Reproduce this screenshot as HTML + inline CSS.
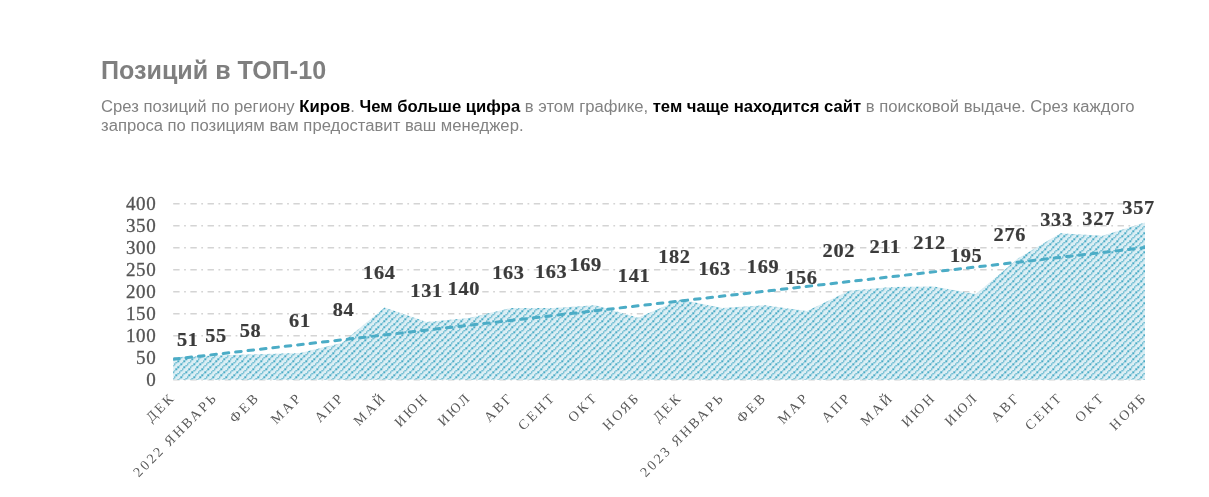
<!DOCTYPE html>
<html lang="ru"><head><meta charset="utf-8"><title>Позиций в ТОП-10</title>
<style>
html,body{margin:0;padding:0;background:#fff;}
body{width:1209px;height:497px;position:relative;overflow:hidden;font-family:"Liberation Sans",Arial,sans-serif;}
h1{position:absolute;left:101px;top:55.2px;margin:0;font-size:25.1px;line-height:30px;font-weight:700;color:#7f7f7f;white-space:nowrap;}
p{position:absolute;left:101px;top:96.7px;margin:0;width:1100px;white-space:nowrap;font-size:16.65px;line-height:19.4px;color:#828282;}
p b{color:#000;font-weight:700;}
svg{position:absolute;left:0;top:0;}
.ax{font-family:"Liberation Serif","DejaVu Serif",serif;font-size:19px;fill:#545454;stroke:#545454;stroke-width:0.3px;letter-spacing:0.7px;}
.dl{font-family:"Liberation Serif","DejaVu Serif",serif;font-size:18.5px;font-weight:700;fill:#3b3b3b;stroke:#3b3b3b;stroke-width:0.2px;letter-spacing:0.6px;}
.ct{font-family:"Liberation Serif","DejaVu Serif",serif;font-size:14px;fill:#595959;letter-spacing:2.5px;}
</style></head><body>
<h1>Позиций в ТОП-10</h1>
<p>Срез позиций по региону <b>Киров</b>. <b>Чем больше цифра</b> в этом графике, <b>тем чаще находится сайт</b> в поисковой выдаче. Срез каждого<br>запроса по позициям вам предоставит ваш менеджер.</p>
<svg width="1209" height="497" viewBox="0 0 1209 497">
<defs>
<pattern id="h" patternUnits="userSpaceOnUse" x="1.3" y="0.3" width="32" height="32">
<rect width="32" height="32" fill="#dbeef4"/>
<path d="M5 0h1v2h-1zM11 0h2v2h-2zM18 0h1v2h-1zM24 0h2v2h-2zM30 0h2v2h-2zM3 2h2v1h-2zM10 2h1v1h-1zM16 2h2v1h-2zM22 2h2v1h-2zM29 2h1v1h-1zM2 3h1v2h-1zM8 3h2v2h-2zM14 3h2v2h-2zM21 3h1v2h-1zM27 3h2v2h-2zM0 5h2v1h-2zM6 5h2v1h-2zM13 5h1v1h-1zM19 5h2v1h-2zM26 5h1v1h-1zM5 6h1v2h-1zM11 6h2v2h-2zM18 6h1v2h-1zM24 6h2v2h-2zM30 6h2v2h-2zM3 8h2v2h-2zM10 8h1v2h-1zM16 8h2v2h-2zM22 8h2v2h-2zM29 8h1v2h-1zM2 10h1v1h-1zM8 10h2v1h-2zM14 10h2v1h-2zM21 10h1v1h-1zM27 10h2v1h-2zM0 11h2v2h-2zM6 11h2v2h-2zM13 11h1v2h-1zM19 11h2v2h-2zM26 11h1v2h-1zM5 13h1v1h-1zM11 13h2v1h-2zM18 13h1v1h-1zM24 13h2v1h-2zM30 13h2v1h-2zM3 14h2v2h-2zM10 14h1v2h-1zM16 14h2v2h-2zM22 14h2v2h-2zM29 14h1v2h-1zM2 16h1v2h-1zM8 16h2v2h-2zM14 16h2v2h-2zM21 16h1v2h-1zM27 16h2v2h-2zM0 18h2v1h-2zM6 18h2v1h-2zM13 18h1v1h-1zM19 18h2v1h-2zM26 18h1v1h-1zM5 19h1v2h-1zM11 19h2v2h-2zM18 19h1v2h-1zM24 19h2v2h-2zM30 19h2v2h-2zM3 21h2v1h-2zM10 21h1v1h-1zM16 21h2v1h-2zM22 21h2v1h-2zM29 21h1v1h-1zM2 22h1v2h-1zM8 22h2v2h-2zM14 22h2v2h-2zM21 22h1v2h-1zM27 22h2v2h-2zM0 24h2v2h-2zM6 24h2v2h-2zM13 24h1v2h-1zM19 24h2v2h-2zM26 24h1v2h-1zM5 26h1v1h-1zM11 26h2v1h-2zM18 26h1v1h-1zM24 26h2v1h-2zM30 26h2v1h-2zM3 27h2v2h-2zM10 27h1v2h-1zM16 27h2v2h-2zM22 27h2v2h-2zM29 27h1v2h-1zM2 29h1v1h-1zM8 29h2v1h-2zM14 29h2v1h-2zM21 29h1v1h-1zM27 29h2v1h-2zM0 30h2v2h-2zM6 30h2v2h-2zM13 30h1v2h-1zM19 30h2v2h-2zM26 30h1v2h-1z" fill="#4bacc6"/>
</pattern>
<clipPath id="pc"><rect x="173.2" y="190" width="971.8" height="200"/></clipPath>
</defs>
<line x1="173.2" y1="379.7" x2="1145.0" y2="379.7" stroke="#d4d4d4" stroke-width="1.4" stroke-dasharray="6.4 4.5 1.77 4.5"/>
<line x1="173.2" y1="357.7" x2="1145.0" y2="357.7" stroke="#d4d4d4" stroke-width="1.4" stroke-dasharray="6.4 4.5 1.77 4.5"/>
<line x1="173.2" y1="335.7" x2="1145.0" y2="335.7" stroke="#d4d4d4" stroke-width="1.4" stroke-dasharray="6.4 4.5 1.77 4.5"/>
<line x1="173.2" y1="313.7" x2="1145.0" y2="313.7" stroke="#d4d4d4" stroke-width="1.4" stroke-dasharray="6.4 4.5 1.77 4.5"/>
<line x1="173.2" y1="291.7" x2="1145.0" y2="291.7" stroke="#d4d4d4" stroke-width="1.4" stroke-dasharray="6.4 4.5 1.77 4.5"/>
<line x1="173.2" y1="269.7" x2="1145.0" y2="269.7" stroke="#d4d4d4" stroke-width="1.4" stroke-dasharray="6.4 4.5 1.77 4.5"/>
<line x1="173.2" y1="247.7" x2="1145.0" y2="247.7" stroke="#d4d4d4" stroke-width="1.4" stroke-dasharray="6.4 4.5 1.77 4.5"/>
<line x1="173.2" y1="225.7" x2="1145.0" y2="225.7" stroke="#d4d4d4" stroke-width="1.4" stroke-dasharray="6.4 4.5 1.77 4.5"/>
<line x1="173.2" y1="203.7" x2="1145.0" y2="203.7" stroke="#d4d4d4" stroke-width="1.4" stroke-dasharray="6.4 4.5 1.77 4.5"/>
<polygon points="173.2,379.7 173.2,357.3 215.5,355.5 257.7,354.2 300.0,352.9 342.2,342.7 384.5,307.5 426.7,322.1 469.0,318.1 511.2,308.0 553.5,308.0 595.7,305.3 638.0,317.7 680.2,299.6 722.5,308.0 764.7,305.3 807.0,311.1 849.2,290.8 891.5,286.9 933.7,286.4 976.0,293.9 1018.2,258.3 1060.5,233.2 1102.7,235.8 1145.0,222.6 1145.0,379.7" fill="url(#h)"/>
<line x1="173.2" y1="359.2" x2="1145.0" y2="247.6" stroke="#4bacc6" stroke-width="3" stroke-linecap="round" stroke-dasharray="5.6 6.884" stroke-dashoffset="-0.4" clip-path="url(#pc)"/>
<text class="ax" x="156.5" y="386.0" text-anchor="end">0</text>
<text class="ax" x="156.5" y="364.0" text-anchor="end">50</text>
<text class="ax" x="156.5" y="342.0" text-anchor="end">100</text>
<text class="ax" x="156.5" y="320.0" text-anchor="end">150</text>
<text class="ax" x="156.5" y="298.0" text-anchor="end">200</text>
<text class="ax" x="156.5" y="276.0" text-anchor="end">250</text>
<text class="ax" x="156.5" y="254.0" text-anchor="end">300</text>
<text class="ax" x="156.5" y="232.0" text-anchor="end">350</text>
<text class="ax" x="156.5" y="210.0" text-anchor="end">400</text>
<text class="dl" transform="translate(187.7,346.2) scale(1.1,1)" text-anchor="middle">51</text>
<text class="dl" transform="translate(216.0,341.6) scale(1.1,1)" text-anchor="middle">55</text>
<text class="dl" transform="translate(250.5,337.1) scale(1.1,1)" text-anchor="middle">58</text>
<text class="dl" transform="translate(299.9,326.7) scale(1.1,1)" text-anchor="middle">61</text>
<text class="dl" transform="translate(343.6,315.6) scale(1.1,1)" text-anchor="middle">84</text>
<text class="dl" transform="translate(379.3,279.4) scale(1.1,1)" text-anchor="middle">164</text>
<text class="dl" transform="translate(426.6,297.1) scale(1.1,1)" text-anchor="middle">131</text>
<text class="dl" transform="translate(463.9,294.7) scale(1.1,1)" text-anchor="middle">140</text>
<text class="dl" transform="translate(508.4,279.0) scale(1.1,1)" text-anchor="middle">163</text>
<text class="dl" transform="translate(551.2,278.4) scale(1.1,1)" text-anchor="middle">163</text>
<text class="dl" transform="translate(585.7,270.9) scale(1.1,1)" text-anchor="middle">169</text>
<text class="dl" transform="translate(634.1,281.7) scale(1.1,1)" text-anchor="middle">141</text>
<text class="dl" transform="translate(674.4,262.7) scale(1.1,1)" text-anchor="middle">182</text>
<text class="dl" transform="translate(714.7,274.7) scale(1.1,1)" text-anchor="middle">163</text>
<text class="dl" transform="translate(763.1,272.7) scale(1.1,1)" text-anchor="middle">169</text>
<text class="dl" transform="translate(801.4,283.8) scale(1.1,1)" text-anchor="middle">156</text>
<text class="dl" transform="translate(838.8,256.5) scale(1.1,1)" text-anchor="middle">202</text>
<text class="dl" transform="translate(885.1,252.7) scale(1.1,1)" text-anchor="middle">211</text>
<text class="dl" transform="translate(929.5,249.4) scale(1.1,1)" text-anchor="middle">212</text>
<text class="dl" transform="translate(966.2,261.6) scale(1.1,1)" text-anchor="middle">195</text>
<text class="dl" transform="translate(1009.8,240.6) scale(1.1,1)" text-anchor="middle">276</text>
<text class="dl" transform="translate(1056.5,225.6) scale(1.1,1)" text-anchor="middle">333</text>
<text class="dl" transform="translate(1098.6,225.1) scale(1.1,1)" text-anchor="middle">327</text>
<text class="dl" transform="translate(1138.6,213.7) scale(1.1,1)" text-anchor="middle">357</text>
<text class="ct" transform="translate(176.2,398.0) rotate(-45)" text-anchor="end">ДЕК</text>
<text class="ct" transform="translate(218.5,398.0) rotate(-45)" text-anchor="end">2022 ЯНВАРЬ</text>
<text class="ct" transform="translate(260.7,398.0) rotate(-45)" text-anchor="end">ФЕВ</text>
<text class="ct" transform="translate(303.0,398.0) rotate(-45)" text-anchor="end">МАР</text>
<text class="ct" transform="translate(345.2,398.0) rotate(-45)" text-anchor="end">АПР</text>
<text class="ct" transform="translate(387.5,398.0) rotate(-45)" text-anchor="end">МАЙ</text>
<text class="ct" transform="translate(429.7,398.0) rotate(-45)" text-anchor="end">ИЮН</text>
<text class="ct" transform="translate(472.0,398.0) rotate(-45)" text-anchor="end">ИЮЛ</text>
<text class="ct" transform="translate(514.2,398.0) rotate(-45)" text-anchor="end">АВГ</text>
<text class="ct" transform="translate(556.5,398.0) rotate(-45)" text-anchor="end">СЕНТ</text>
<text class="ct" transform="translate(598.7,398.0) rotate(-45)" text-anchor="end">ОКТ</text>
<text class="ct" transform="translate(641.0,398.0) rotate(-45)" text-anchor="end">НОЯБ</text>
<text class="ct" transform="translate(683.2,398.0) rotate(-45)" text-anchor="end">ДЕК</text>
<text class="ct" transform="translate(725.5,398.0) rotate(-45)" text-anchor="end">2023 ЯНВАРЬ</text>
<text class="ct" transform="translate(767.7,398.0) rotate(-45)" text-anchor="end">ФЕВ</text>
<text class="ct" transform="translate(810.0,398.0) rotate(-45)" text-anchor="end">МАР</text>
<text class="ct" transform="translate(852.2,398.0) rotate(-45)" text-anchor="end">АПР</text>
<text class="ct" transform="translate(894.5,398.0) rotate(-45)" text-anchor="end">МАЙ</text>
<text class="ct" transform="translate(936.7,398.0) rotate(-45)" text-anchor="end">ИЮН</text>
<text class="ct" transform="translate(979.0,398.0) rotate(-45)" text-anchor="end">ИЮЛ</text>
<text class="ct" transform="translate(1021.2,398.0) rotate(-45)" text-anchor="end">АВГ</text>
<text class="ct" transform="translate(1063.5,398.0) rotate(-45)" text-anchor="end">СЕНТ</text>
<text class="ct" transform="translate(1105.7,398.0) rotate(-45)" text-anchor="end">ОКТ</text>
<text class="ct" transform="translate(1148.0,398.0) rotate(-45)" text-anchor="end">НОЯБ</text>
</svg>
</body></html>
